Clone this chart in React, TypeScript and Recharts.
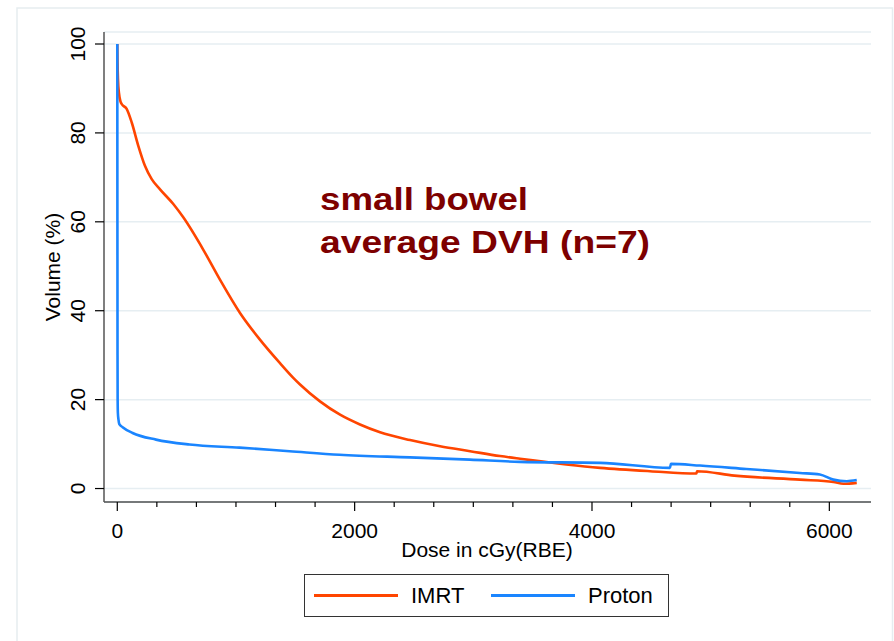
import { CartesianGrid, Customized, Legend, Line, LineChart, XAxis, YAxis } from 'recharts'

// average small bowel DVH, dose in cGy(RBE) vs volume in %
const imrtDose = [
  0, 2, 6, 14, 28, 37, 79, 121, 177, 233, 290, 360, 472, 556, 725, 865, 1034, 1202, 1371, 1483,
  1540, 1708, 1877, 2045, 2214, 2467, 2720, 2973, 3225, 3394, 4068, 4489, 4880, 4885, 5200, 5752,
  6034, 6118, 6231,
]
const imrtVolume = [
  100, 96, 92, 89, 87, 86.5, 85.4, 82.4, 77.1, 72.6, 69.6, 67.3, 64.0, 61.0, 53.7, 47.0, 39.5, 33.5,
  28.2, 24.9, 23.4, 19.6, 16.6, 14.4, 12.65, 10.9, 9.5, 8.4, 7.3, 6.7, 4.65, 3.9, 3.37, 3.9, 2.9, 2.0,
  1.5, 1.06, 1.28,
]
const protonDose = [
  0, 1, 2, 3, 5, 10, 17, 45, 129, 326, 608, 1030, 1452, 1873, 2464, 2971, 3392, 4068, 4657, 4665,
  4910, 5300, 5752, 5920, 6034, 6147, 6231,
]
const protonVolume = [
  100, 60, 30, 20, 17, 15.5, 14.5, 13.8, 12.5, 11.0, 9.9, 9.2, 8.4, 7.6, 7.0, 6.5, 6.0, 5.78, 4.65,
  5.55, 5.17, 4.4, 3.5, 3.15, 2.0, 1.65, 1.9,
]

const doseMajorTicks = [0, 2000, 4000, 6000]
const doseAllTicks = [
  0, 333.3, 666.7, 1000, 1333.3, 1666.7, 2000, 2333.3, 2666.7, 3000, 3333.3, 3666.7, 4000, 4333.3,
  4666.7, 5000, 5333.3, 5666.7, 6000,
]
const volumeTicks = [0, 20, 40, 60, 80, 100]

const imrtPoints = imrtDose.map((dose, i) => ({ dose, volume: imrtVolume[i] }))
const protonPoints = protonDose.map((dose, i) => ({ dose, volume: protonVolume[i] }))

const FONT = '"Liberation Sans", Arial, Helvetica, sans-serif'
const IMRT_COLOR = '#ff4500'
const PROTON_COLOR = '#1a85ff'
const TICK_SIZE = 9
const TICK_MARGIN = 6

function DoseTick({ x, y, payload }: any) {
  const axisY = y - TICK_SIZE - TICK_MARGIN
  const major = doseMajorTicks.includes(payload.value)
  return (
    <g>
      <line x1={x} x2={x} y1={axisY} y2={axisY + (major ? 9 : 5)} stroke="#000" strokeWidth={1.2} />
      {major && (
        <text x={x} y={axisY + 36} textAnchor="middle" fontSize={21} fontFamily={FONT} fill="#000">
          {payload.value}
        </text>
      )}
    </g>
  )
}

function VolumeTick({ x, y, payload }: any) {
  const axisX = x + TICK_SIZE + TICK_MARGIN
  return (
    <g>
      <line x1={axisX - 9} x2={axisX} y1={y} y2={y} stroke="#000" strokeWidth={1.2} />
      <text
        transform={`translate(${axisX - 19},${y}) rotate(-90)`}
        textAnchor="middle"
        fontSize={21}
        fontFamily={FONT}
        fill="#000"
      >
        {payload.value}
      </text>
    </g>
  )
}

function Overlay() {
  return (
    <g fontFamily={FONT}>
      <rect x={17} y={8} width={875.5} height={700} fill="none" stroke="#e6edf0" strokeWidth={1.5} />
      <text
        transform="translate(60,267) rotate(-90)"
        textAnchor="middle"
        fontSize={21}
        fill="#000"
      >
        Volume (%)
      </text>
      <text x={487} y={557} textAnchor="middle" fontSize={21} fill="#000">
        Dose in cGy(RBE)
      </text>
      <text
        x={320}
        y={210}
        fontSize={32}
        fontWeight="bold"
        fill="#7d0000"
        textLength={208}
        lengthAdjust="spacingAndGlyphs"
      >
        small bowel
      </text>
      <text
        x={320}
        y={253}
        fontSize={32}
        fontWeight="bold"
        fill="#7d0000"
        textLength={330}
        lengthAdjust="spacingAndGlyphs"
      >
        average DVH (n=7)
      </text>
    </g>
  )
}

function LegendBox() {
  const items = [
    { name: 'IMRT', color: IMRT_COLOR },
    { name: 'Proton', color: PROTON_COLOR },
  ]
  return (
    <div
      style={{
        width: 365,
        height: 43,
        border: '1px solid #333',
        display: 'flex',
        alignItems: 'center',
        fontFamily: FONT,
        fontSize: 22,
        boxSizing: 'border-box',
        paddingLeft: 9,
      }}
    >
      {items.map((item) => (
        <div key={item.name} style={{ display: 'flex', alignItems: 'center', width: 183 }}>
          <span
            style={{ display: 'inline-block', width: 84, height: 2.5, background: item.color }}
          />
          <span style={{ marginLeft: 13 }}>{item.name}</span>
        </div>
      ))}
    </div>
  )
}

export default function App() {
  return (
    <div style={{ position: 'absolute', left: 0, top: 0, width: 894, height: 641, background: '#fff' }}>
      <LineChart width={894} height={641} margin={{ top: 32, right: 23, bottom: 78, left: 0 }}>
        <CartesianGrid vertical={false} stroke="#e6eef2" strokeWidth={1.5} />
        <XAxis
          type="number"
          dataKey="dose"
          domain={[-112, 6351]}
          allowDataOverflow
          ticks={doseAllTicks}
          interval={0}
          height={61}
          tickSize={TICK_SIZE}
          tickMargin={TICK_MARGIN}
          tickLine={false}
          tick={<DoseTick />}
          axisLine={{ stroke: '#000', strokeWidth: 1.2 }}
        />
        <YAxis
          type="number"
          dataKey="volume"
          domain={[-3.03, 102.7]}
          allowDataOverflow
          ticks={volumeTicks}
          interval={0}
          width={104}
          tickSize={TICK_SIZE}
          tickMargin={TICK_MARGIN}
          tickLine={false}
          tick={<VolumeTick />}
          axisLine={{ stroke: '#555', strokeWidth: 1.5 }}
        />
        <Line
          data={imrtPoints}
          dataKey="volume"
          name="IMRT"
          type="monotoneX"
          stroke={IMRT_COLOR}
          strokeWidth={2.6}
          dot={false}
          isAnimationActive={false}
        />
        <Line
          data={protonPoints}
          dataKey="volume"
          name="Proton"
          type="monotoneX"
          stroke={PROTON_COLOR}
          strokeWidth={2.6}
          dot={false}
          isAnimationActive={false}
        />
        <Legend
          layout="horizontal"
          verticalAlign="middle"
          align="center"
          wrapperStyle={{ left: 304, top: 574, width: 365 }}
          content={<LegendBox />}
        />
        <Customized component={<Overlay />} />
      </LineChart>
    </div>
  )
}
